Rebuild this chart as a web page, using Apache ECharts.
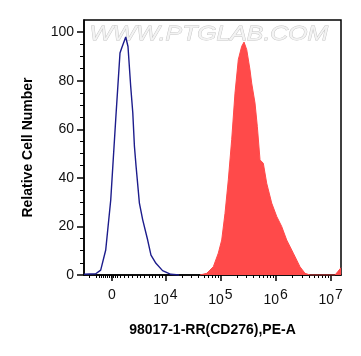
<!DOCTYPE html>
<html><head><meta charset="utf-8">
<script src="https://cdn.jsdelivr.net/npm/echarts@6/dist/echarts.min.js"></script>
<style>html,body{margin:0;padding:0;background:#fff}#c{width:361px;height:356px}</style>
</head><body><div id="c"></div>
<script>
// x positions are in display (logicle decade) units of the axis
const controlX = [2.525, 2.738, 2.828, 2.919, 3.010, 3.100, 3.178, 3.209, 3.282, 3.323, 3.372, 3.410, 3.440, 3.470, 3.530, 3.590, 3.680, 3.740, 3.830, 3.950, 4.100, 4.250];
const controlY = [0.3, 0.5, 2.0, 10.3, 30.9, 63.9, 91.4, 93.5, 98.0, 94.1, 77.7, 66.8, 52.9, 44.7, 29.6, 22.7, 14.4, 8.2, 4.8, 1.8, 0.3, 0];
const sampleX = [4.629, 4.751, 4.871, 4.961, 5.023, 5.083, 5.143, 5.204, 5.264, 5.324, 5.386, 5.428, 5.477, 5.536, 5.567, 5.627, 5.669, 5.718, 5.778, 5.839, 5.930, 6.021, 6.111, 6.202, 6.322, 6.443, 6.534, 6.625, 7.078, 7.133, 7.187];
const sampleY = [0, 0.7, 3.4, 9.0, 14.4, 25.4, 39.2, 55.7, 74.9, 88.7, 94.2, 95.9, 92.8, 84.5, 79.0, 70.8, 61.2, 47.4, 46.0, 37.8, 29.6, 24.1, 20.0, 14.4, 9.0, 3.4, 0.7, 0, 0, 1.5, 3.0];
const xMajorTicks = [3.033, 4, 5, 6, 7];
const xMajorLabels = ['0', '4', '5', '6', '7'];
const xLinearMinorTicks = [2.616, 2.743, 2.797, 2.834, 2.870, 2.906, 2.942, 2.979, 3.015, 3.051, 3.088, 3.124, 3.191, 3.251, 3.323, 3.395, 3.486, 3.554, 3.626, 3.704, 3.759, 3.826, 3.886, 3.946];
const decadeStarts = [4, 5, 6];
const decadeMultipliers = [2, 3, 4, 5, 6, 7, 8, 9];
const yTicks = [0, 20, 40, 60, 80, 100];
const yMinorTicks = [5, 10, 15, 25, 30, 35, 45, 50, 55, 65, 70, 75, 85, 90, 95];
const xMin = 2.525, xMax = 7.187, yMin = 0, yMax = 105;

const xMinorTicks = xLinearMinorTicks.slice();
decadeStarts.forEach(d => decadeMultipliers.forEach(k => xMinorTicks.push(d + Math.log10(k))));

const FONT = 'Liberation Sans, Arial, sans-serif';
const chart = echarts.init(document.getElementById('c'), null, {renderer: 'canvas'});
const zip = (xs, ys) => xs.map((x, i) => [x, ys[i]]);

chart.setOption({
  animation: false,
  backgroundColor: '#fff',
  grid: {left: 84, top: 20, right: 20, bottom: 81, show: true, borderColor: '#000', borderWidth: 1.5},
  xAxis: [{
    type: 'value', min: xMin, max: xMax,
    axisLine: {show: true, onZero: false, lineStyle: {color: '#000', width: 1.5}},
    axisTick: {show: true, customValues: xMajorTicks, length: 6, lineStyle: {color: '#000', width: 1.5}},
    axisLabel: {
      customValues: xMajorTicks, margin: 13, color: '#111',
      formatter: function (v) {
        let best = 0;
        xMajorTicks.forEach((t, i) => { if (Math.abs(t - v) < Math.abs(xMajorTicks[best] - v)) best = i; });
        const lab = xMajorLabels[best];
        return lab === '0' ? '{b|0}' : '{b|10}{s|' + lab + '}';
      },
      rich: {
        b: {fontSize: 14, fontFamily: FONT, color: '#111'},
        s: {fontSize: 14, fontFamily: FONT, color: '#111', padding: [0, 0, 10, 1]}
      }
    },
    splitLine: {show: false},
    name: '98017-1-RR(CD276),PE-A', nameLocation: 'middle', nameGap: 48,
    nameTextStyle: {fontWeight: 'bold', fontSize: 14, color: '#000', fontFamily: FONT}
  }, {
    type: 'value', min: xMin, max: xMax, position: 'bottom',
    axisLine: {show: false, onZero: false},
    axisTick: {show: true, customValues: xMinorTicks, length: 3, lineStyle: {color: '#000', width: 1}},
    axisLabel: {show: false}, splitLine: {show: false}
  }],
  yAxis: [{
    type: 'value', min: yMin, max: yMax,
    axisLine: {show: true, onZero: false, lineStyle: {color: '#000', width: 1.5}},
    axisTick: {show: true, customValues: yTicks, length: 7, lineStyle: {color: '#000', width: 1.5}},
    axisLabel: {customValues: yTicks, margin: 10, fontSize: 14, color: '#111', fontFamily: FONT},
    splitLine: {show: false},
    name: 'Relative Cell Number', nameLocation: 'middle', nameGap: 49, nameRotate: 90,
    nameTextStyle: {fontWeight: 'bold', fontSize: 14, color: '#000', fontFamily: FONT}
  }, {
    type: 'value', min: yMin, max: yMax, position: 'left',
    axisLine: {show: false, onZero: false},
    axisTick: {show: true, customValues: yMinorTicks, length: 4, lineStyle: {color: '#000', width: 1}},
    axisLabel: {show: false}, splitLine: {show: false}
  }],
  graphic: [{
    type: 'text', left: 89, top: 23, z: 0, scaleX: 1.18,
    style: {text: 'WWW.PTGLAB.COM', font: 'italic 21px ' + FONT, fill: '#f3f3f3', stroke: '#c4c4c4', lineWidth: 0.8}
  }],
  series: [{
    type: 'line', data: zip(sampleX, sampleY), showSymbol: false, smooth: false, z: 2,
    lineStyle: {color: '#ff4a4a', width: 1}, areaStyle: {color: '#ff4a4a', opacity: 1}
  }, {
    type: 'line', data: zip(controlX, controlY), showSymbol: false, smooth: false, z: 3,
    lineStyle: {color: '#1c1c8c', width: 1.4}
  }]
});
</script></body></html>
